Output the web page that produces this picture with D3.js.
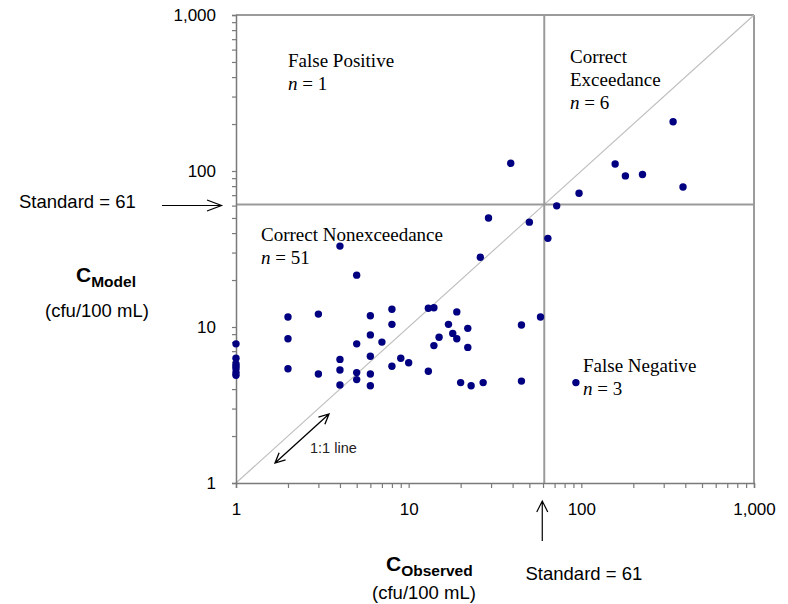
<!DOCTYPE html>
<html>
<head>
<meta charset="utf-8">
<script src="https://cdn.jsdelivr.net/npm/d3@7"></script>
<style>
  body { margin: 0; background: #fff; }
  svg { display: block; }
</style>
</head>
<body>
<script>
// observed vs modelled concentrations (cfu/100 mL)
const observed = [
  1, 1, 1, 1, 1, 1, 1,
  2, 2, 2,
  3, 3,
  4, 4, 4, 4,
  5, 5, 5, 5,
  6, 6, 6, 6, 6,
  7,
  8, 8, 8,
  9, 10,
  13, 13, 14, 14, 15, 17, 18, 19, 19,
  20, 22, 22, 23, 26, 27, 29,
  45, 45, 50, 58,
  39,
  64, 72, 93,
  97, 157, 180, 226, 340, 388
];
const modeled = [
  7.8, 6.3, 5.8, 5.6, 5.4, 5.1, 4.9,
  11.6, 8.4, 5.4,
  12.1, 5.0,
  33, 6.2, 5.3, 4.25,
  21.5, 7.8, 5.1, 4.6,
  11.8, 8.9, 6.5, 5.0, 4.2,
  8,
  13, 10.4, 5.6,
  6.3, 5.9,
  13.2, 5.2, 13.3, 7.6, 8.6, 10.4, 9.1, 12.5, 8.4,
  4.4, 9.8, 7.4, 4.2, 28, 4.4, 50,
  10.3, 4.5, 47, 11.6,
  112,
  37, 59.8, 4.4,
  72, 111, 93, 95, 207, 79
];
const standard = 61;
const majorTicks = [1, 10, 100, 1000];
const tickLabels = ["1", "10", "100", "1,000"];

const width = 788, height = 604;
const x0 = 236, x1 = 754, y0 = 483, y1 = 15;

const svg = d3.select("body").append("svg")
  .attr("width", width)
  .attr("height", height);

const x = d3.scaleLog().domain([1, 1000]).range([x0, x1]);
const y = d3.scaleLog().domain([1, 1000]).range([y0, y1]);

// every 1..9 per decade gets a tick
const allTicks = [];
[1, 10, 100].forEach(d => { for (let k = 1; k < 10; k++) allTicks.push(d * k); });
allTicks.push(1000);
const fmt = v => { const i = majorTicks.indexOf(v); return i >= 0 ? tickLabels[i] : ""; };

const axisColor = "#7a7a7a";

// frame top / right
svg.append("line").attr("x1", x0).attr("x2", x1).attr("y1", y1).attr("y2", y1)
  .attr("stroke", axisColor).attr("stroke-width", 1.5);
svg.append("line").attr("x1", x1).attr("x2", x1).attr("y1", y1).attr("y2", y0)
  .attr("stroke", axisColor).attr("stroke-width", 1.5);

// 1:1 line
svg.append("line")
  .attr("x1", x(1)).attr("y1", y(1)).attr("x2", x(1000)).attr("y2", y(1000))
  .attr("stroke", "#c0c0c0").attr("stroke-width", 1.2);

// standard lines
svg.append("line").attr("x1", x(standard)).attr("x2", x(standard)).attr("y1", y1).attr("y2", y0)
  .attr("stroke", "#9a9a9a").attr("stroke-width", 2);
svg.append("line").attr("x1", x0).attr("x2", x1).attr("y1", y(standard)).attr("y2", y(standard))
  .attr("stroke", "#9a9a9a").attr("stroke-width", 2);

// axes
const yAxis = svg.append("g")
  .attr("transform", `translate(${x0},0)`)
  .call(d3.axisLeft(y).tickValues(allTicks).tickFormat(fmt).tickSize(4).tickPadding(16));
const xAxis = svg.append("g")
  .attr("transform", `translate(0,${y0})`)
  .call(d3.axisBottom(x).tickValues(allTicks).tickFormat(fmt).tickSize(5).tickPadding(15));

[yAxis, xAxis].forEach(g => {
  g.select(".domain").attr("stroke", axisColor).attr("stroke-width", 1.5);
  g.selectAll(".tick line").attr("stroke", axisColor).attr("stroke-width", 1.2);
  g.selectAll("text")
    .attr("fill", "#000")
    .style("font-family", "'Liberation Sans', Arial, sans-serif")
    .style("font-size", "17px");
});

// points
svg.append("g")
  .selectAll("circle")
  .data(observed.map((o, i) => [o, modeled[i]]))
  .join("circle")
  .attr("cx", d => x(d[0]))
  .attr("cy", d => y(d[1]))
  .attr("r", 3.7)
  .attr("fill", "#000080");

// quadrant annotations
const serif = "'Liberation Serif', 'Times New Roman', serif";
const sans = "'Liberation Sans', Arial, sans-serif";

function note(px, lines, n) {
  const t = svg.append("text")
    .attr("x", px[0]).attr("y", px[1])
    .style("font-family", serif).style("font-size", "19px").attr("fill", "#000");
  lines.forEach((s, i) => {
    t.append("tspan").attr("x", px[0]).attr("dy", i === 0 ? 0 : 22.5).text(s);
  });
  const last = t.append("tspan").attr("x", px[0]).attr("dy", lines.length ? 23 : 0);
  last.append("tspan").style("font-style", "italic").text("n");
  last.append("tspan").text(" = " + n);
}
note([288, 66.5], ["False Positive"], 1);
note([570, 63], ["Correct", "Exceedance"], 6);
note([261, 240.5], ["Correct Nonexceedance"], 51);
note([583, 371.5], ["False Negative"], 3);

// axis titles
const yt = svg.append("text").attr("x", 76).attr("y", 282)
  .style("font-family", sans).style("font-weight", "bold").attr("fill", "#000");
yt.append("tspan").style("font-size", "21px").text("C");
yt.append("tspan").attr("dy", 5).style("font-size", "15.5px").text("Model");
svg.append("text").attr("x", 97).attr("y", 317).attr("text-anchor", "middle")
  .style("font-family", sans).style("font-size", "18.5px").text("(cfu/100 mL)");

const xt = svg.append("text").attr("x", 386).attr("y", 571)
  .style("font-family", sans).style("font-weight", "bold").attr("fill", "#000");
xt.append("tspan").style("font-size", "21px").text("C");
xt.append("tspan").attr("dy", 5).style("font-size", "15.5px").text("Observed");
svg.append("text").attr("x", 424).attr("y", 599).attr("text-anchor", "middle")
  .style("font-family", sans).style("font-size", "18.5px").text("(cfu/100 mL)");

// standard labels and arrows
svg.append("text").attr("x", 19).attr("y", 207.5)
  .style("font-family", sans).style("font-size", "18.5px").text("Standard = " + standard);
svg.append("text").attr("x", 525.5).attr("y", 579.5)
  .style("font-family", sans).style("font-size", "18.5px").text("Standard = " + standard);

const arrowStyle = g => g.attr("fill", "none").attr("stroke", "#000").attr("stroke-width", 1.2);
const ys = y(standard) + 1, xs = x(standard) - 2;
svg.append("path").call(arrowStyle)
  .attr("d", `M162,${ys}H221.5M207,${ys - 5.5}L221.5,${ys}L207,${ys + 5.5}`);
svg.append("path").call(arrowStyle)
  .attr("d", `M${xs},541V501M${xs - 5.5},512L${xs},501L${xs + 5.5},512`);

// 1:1 line double arrow
const ax1 = 275, ay1 = 463, ax2 = 329, ay2 = 414;
const ang = Math.atan2(ay2 - ay1, ax2 - ax1);
const head = (px, py, a) => {
  const L = 11, w = 0.45;
  return `M${px - L * Math.cos(a - w)},${py - L * Math.sin(a - w)}L${px},${py}L${px - L * Math.cos(a + w)},${py - L * Math.sin(a + w)}`;
};
svg.append("path").call(arrowStyle).attr("stroke-width", 1.3)
  .attr("d", `M${ax1},${ay1}L${ax2},${ay2}` + head(ax2, ay2, ang) + head(ax1, ay1, ang + Math.PI));
svg.append("text").attr("x", 310).attr("y", 453)
  .style("font-family", sans).style("font-size", "14.5px").attr("fill", "#222").text("1:1 line");
</script>
</body>
</html>
